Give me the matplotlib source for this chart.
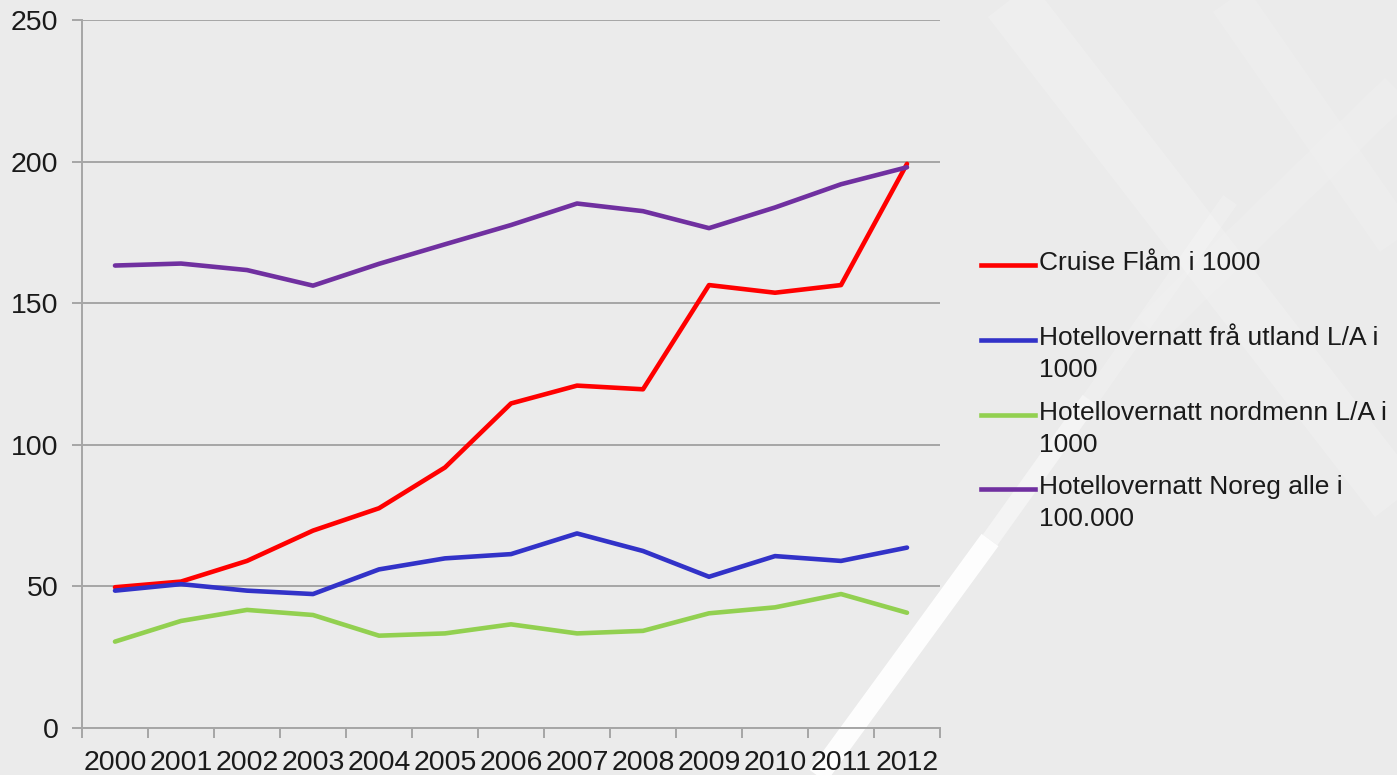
import matplotlib
matplotlib.use("Agg")
import matplotlib.pyplot as plt
from matplotlib.lines import Line2D
import numpy as np

years = ["2000", "2001", "2002", "2003", "2004", "2005", "2006",
         "2007", "2008", "2009", "2010", "2011", "2012"]
cruise = [49.7, 51.7, 59.0, 69.7, 77.6, 92.0, 114.6, 120.9, 119.6, 156.4, 153.7, 156.4, 199.2]
utland = [48.5, 50.8, 48.5, 47.3, 56.0, 59.9, 61.4, 68.7, 62.5, 53.4, 60.7, 59.0, 63.7]
nordmenn = [30.5, 37.8, 41.7, 39.9, 32.6, 33.4, 36.6, 33.4, 34.3, 40.5, 42.6, 47.3, 40.7]
noreg = [163.3, 164.0, 161.7, 156.2, 163.9, 170.8, 177.6, 185.2, 182.5, 176.5, 183.8, 192.0, 198.0]

series_labels = ["Cruise Flåm i 1000",
                 "Hotellovernatt frå utland L/A i\n1000",
                 "Hotellovernatt nordmenn L/A i\n1000",
                 "Hotellovernatt Noreg alle i\n100.000"]
series_values = [cruise, utland, nordmenn, noreg]
colors = ["#ff0000", "#3232c8", "#92d050", "#7030a0"]
yticks = [0, 50, 100, 150, 200, 250]

plt.rcParams['font.family'] = ['Liberation Sans', 'DejaVu Sans']

W, H = 1397, 775
fig = plt.figure(figsize=(W / 100, H / 100), dpi=100)
fig.patch.set_facecolor("#ebebeb")

# faint background texture strokes (decorative)
def fline(x0, y0, x1, y1, lw, alpha):
    fig.add_artist(Line2D([x0 / W, x1 / W], [1 - y0 / H, 1 - y1 / H],
                          transform=fig.transFigure, color="white",
                          lw=lw, alpha=alpha, zorder=0, solid_capstyle="butt"))

fline(815, 780, 990, 540, 15, 0.95)
fline(990, 540, 1090, 400, 13, 0.45)
fline(1090, 400, 1230, 200, 12, 0.2)
fline(1010, 0, 1397, 500, 40, 0.18)
fline(1230, 0, 1397, 240, 30, 0.12)
fline(1397, 90, 1150, 330, 25, 0.1)

ax = fig.add_axes([82 / W, 1 - 728 / H, (940 - 82) / W, (728 - 20) / H])
ax.set_facecolor("none")

x = np.arange(len(years))
for vals, lab, c in zip(series_values, series_labels, colors):
    ax.plot(x, vals, color=c, lw=3.3, label=lab, solid_capstyle="round",
            solid_joinstyle="round", zorder=3)

ax.set_xlim(-0.5, len(years) - 0.5)
ax.set_ylim(0, 250)
ax.set_yticks(yticks)
ax.set_yticklabels([str(v) for v in yticks])
ax.set_xticks(x)
ax.set_xticklabels(years)
ax.set_xticks(np.arange(-0.5, len(years), 1.0), minor=True)

gridc = "#a6a6a6"
ax.grid(axis="y", color=gridc, lw=1.4, zorder=1)
ax.set_axisbelow(True)
for s in ["top", "right"]:
    ax.spines[s].set_visible(False)
for s in ["left", "bottom"]:
    ax.spines[s].set_color(gridc)
    ax.spines[s].set_linewidth(1.4)

ax.tick_params(axis="x", which="major", length=0, pad=16, labelsize=20.5, colors="#1a1a1a")
ax.tick_params(axis="x", which="minor", length=7, width=1.4, color=gridc, direction="out")
ax.tick_params(axis="y", which="major", length=7, width=1.4, color=gridc, pad=10,
               labelsize=20.5, labelcolor="#1a1a1a")

# legend (manually placed to keep handle aligned with first text line)
leg_y = [265, 340, 415, 489]
for lab, c, yy in zip(series_labels, colors, leg_y):
    fig.add_artist(Line2D([981 / W, 1035 / W], [1 - yy / H, 1 - yy / H],
                          transform=fig.transFigure, color=c, lw=3.3))
    fig.text(1039 / W, 1 - (yy - 14) / H, lab, fontsize=19, color="#1a1a1a",
             va="top", ha="left", linespacing=1.42)

fig.savefig("out.png", dpi=100, facecolor=fig.get_facecolor())
